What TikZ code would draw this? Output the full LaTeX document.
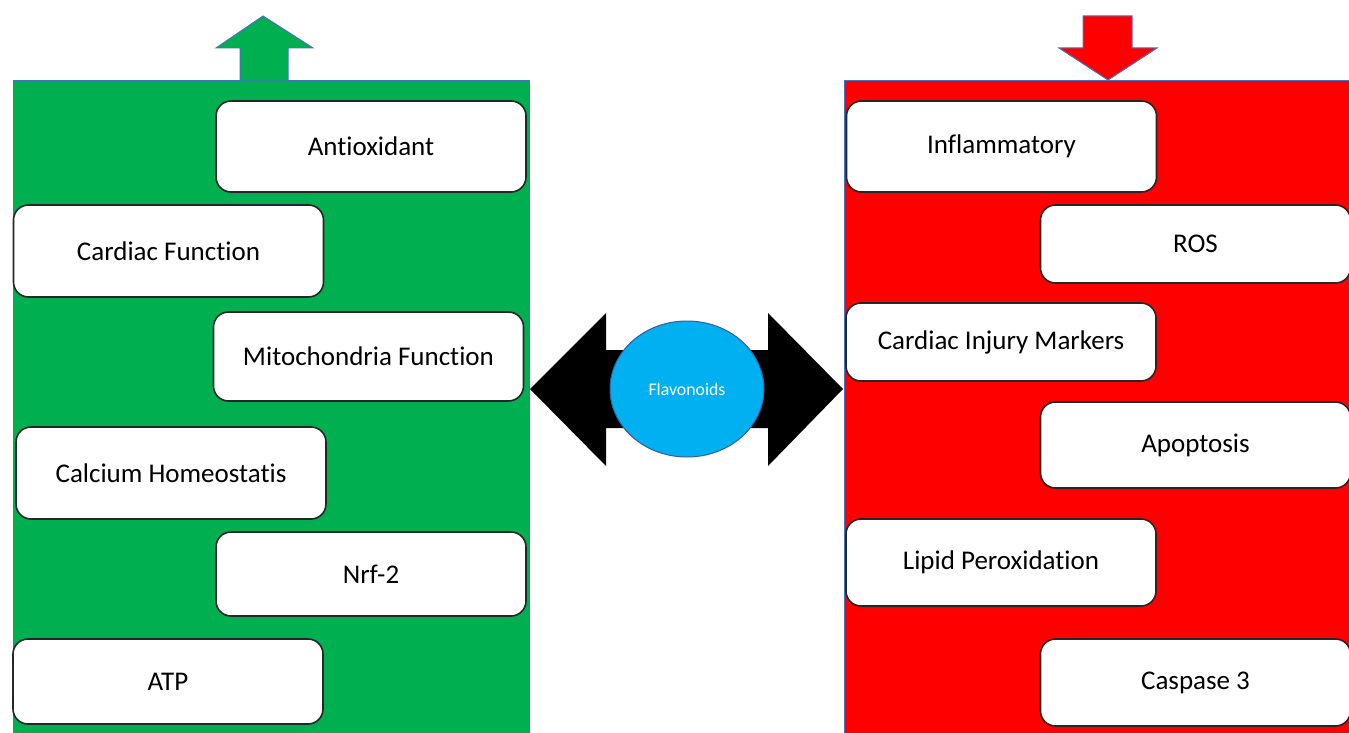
\documentclass[tikz,border=0pt]{standalone}
\usepackage{fontspec}
\setmainfont{Carlito}[Ligatures=NoCommon]
\usepackage{tikz}
\usetikzlibrary{shapes.geometric}
\definecolor{upgreen}{RGB}{0,176,80}
\definecolor{downred}{RGB}{255,0,0}
\definecolor{flavblue}{RGB}{0,176,240}
\definecolor{edgeblue}{RGB}{68,114,196}

\begin{document}
\begin{tikzpicture}[x=0.5pt,y=-0.5pt,
  panel/.style={draw=edgeblue,line width=0.5pt},
  fxbox/.style={draw=black!85,line width=0.8pt,fill=white,rounded corners=7.5pt,minimum width=155pt,inner sep=0pt,font=\fontsize{13.5}{16}\selectfont}]
  \useasboundingbox (0,0) rectangle (1349,733);
  % the two panels
  \draw[panel,fill=upgreen] (13,81) rectangle (529,745);
  \draw[panel,fill=downred] (844,81) rectangle (1362,745);
  % up / down arrows
  \draw[panel,fill=upgreen] (263,16)--(313,48)--(288,48)--(288,81)--(240,81)--(240,48)--(216,48)--cycle;
  \draw[panel,fill=downred] (1108,80)--(1157,48)--(1132,48)--(1132,16)--(1083,16)--(1083,48)--(1059,48)--cycle;
  % boxes
  \foreach \i/\x/\y/\h/\t in {1/371/146.5/91/Antioxidant,2/168.5/251/92/Cardiac Function,3/368.5/356.5/89/Mitochondria Function,4/171/473/92/Calcium Homeostatis,5/371/574/84/Nrf-2,6/168/681.5/85/ATP}
    \node[fxbox,minimum height=\h*0.5pt] (L\i) at (\x,\y) {\t};
  \foreach \i/\x/\y/\h/\t in {1/1001.5/146.5/91/Inflammatory,2/1195.5/244/78/ROS,3/1001/342/78/Cardiac Injury Markers,4/1195.5/445/86/Apoptosis,5/1001/562.5/87/Lipid Peroxidation,6/1195.5/682.5/87/Caspase 3}
    \node[fxbox,minimum height=\h*0.5pt] (R\i) at (\x,\y) {\t};
  % double arrow with flavonoids
  \fill[black] (530,389)--(606,313)--(606,350)--(768,350)--(768,313)--(843,389)--(768,466)--(768,428)--(606,428)--(606,466)--cycle;
  \node[ellipse,draw=edgeblue!80!black,line width=0.5pt,fill=flavblue,minimum width=77pt,minimum height=68pt,text=white,font=\fontsize{8.9}{10}\selectfont] (flav) at (687,389) {Flavonoids};
\end{tikzpicture}
\end{document}
